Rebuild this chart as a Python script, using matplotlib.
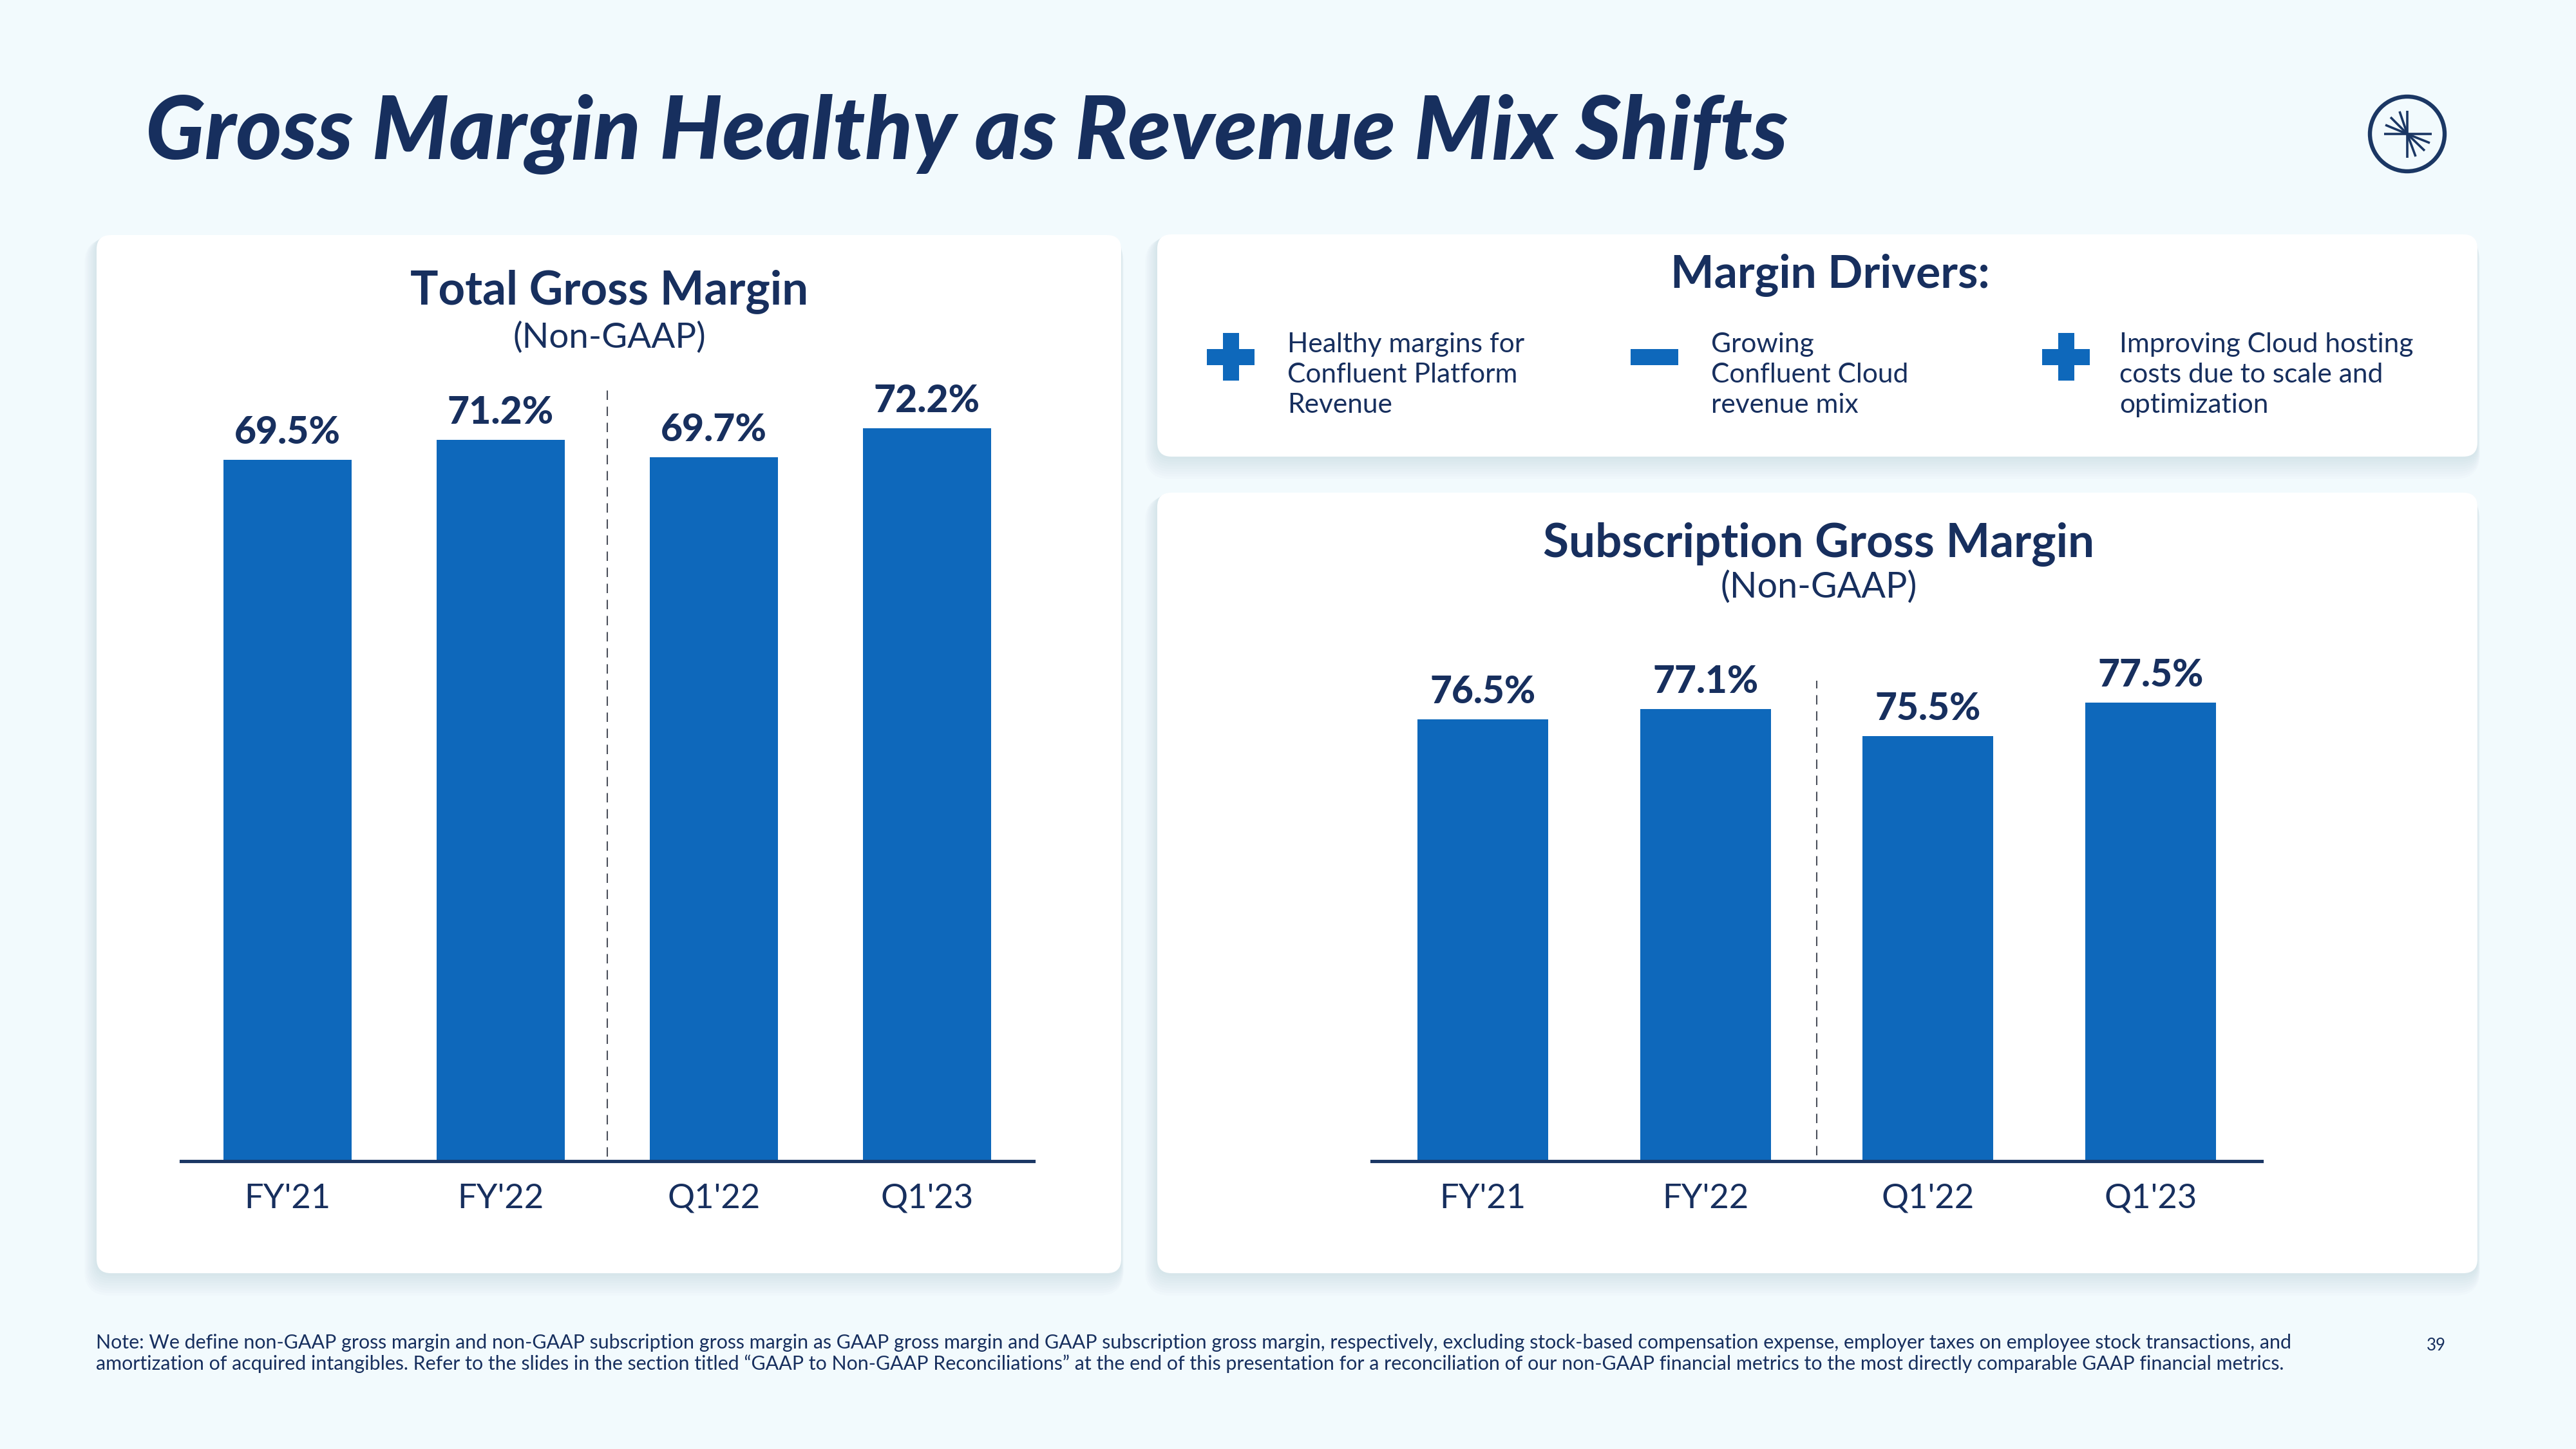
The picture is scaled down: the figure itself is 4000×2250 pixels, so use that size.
import matplotlib
matplotlib.use('Agg')
import matplotlib.pyplot as plt
from matplotlib.patches import FancyBboxPatch, Rectangle, Circle
from matplotlib.lines import Line2D

# ---------------- data ----------------
categories = ["FY'21", "FY'22", "Q1'22", "Q1'23"]
total_gm = [69.5, 71.2, 69.7, 72.2]
subscription_gm = [76.5, 77.1, 75.5, 77.5]

title = "Gross Margin Healthy as Revenue Mix Shifts"
total_title = "Total Gross Margin"
sub_title = "Subscription Gross Margin"
subtitle = "(Non-GAAP)"
drivers_title = "Margin Drivers:"
drivers = [
    ("+", ["Healthy margins for", "Confluent Platform", "Revenue"]),
    ("-", ["Growing", "Confluent Cloud", "revenue mix"]),
    ("+", ["Improving Cloud hosting", "costs due to scale and", "optimization"]),
]
footnote = [
    "Note: We define non-GAAP gross margin and non-GAAP subscription gross margin as GAAP gross margin and GAAP subscription gross margin, respectively, excluding stock-based compensation expense, employer taxes on employee stock transactions, and",
    "amortization of acquired intangibles. Refer to the slides in the section titled \u201cGAAP to Non-GAAP Reconciliations\u201d at the end of this presentation for a reconciliation of our non-GAAP financial metrics to the most directly comparable GAAP financial metrics.",
]
page_number = "39"

# ---------------- style ----------------
BG = '#f2fafd'
NAVY = '#172f5e'
NAVY_LINE = '#1b3764'
BAR = '#0e68bb'
DASH = '#4a4f5a'
FONT = ['Lato', 'DejaVu Sans']
plt.rcParams['font.family'] = FONT
LIGHT = 'normal'

W, H = 4000, 2250
fig = plt.figure(figsize=(40, 22.5), dpi=100)
fig.patch.set_facecolor(BG)
renderer = fig.canvas.get_renderer()


def fr(x0, y0, x1, y1):
    return [x0 / W, 1 - y1 / H, (x1 - x0) / W, (y1 - y0) / H]


def fit(t, target):
    w = t.get_window_extent(renderer).width
    t.set_fontsize(t.get_fontsize() * target / w)
    return t.get_fontsize()


bg = fig.add_axes([0, 0, 1, 1])
bg.set_xlim(0, W)
bg.set_ylim(H, 0)
bg.axis('off')
bg.set_zorder(0)


def panel(x0, y0, x1, y1, r=22):
    for i in range(1, 10):
        s = i * 3.5
        bg.add_patch(FancyBboxPatch((x0 - s * 0.6, y0 + s * 0.2), (x1 - x0) + 1.2 * s * 0.6,
                                    (y1 - y0) + s * 0.9,
                                    boxstyle=f"round,pad=0,rounding_size={r + s * 0.5}",
                                    fc='#7f9fb0', ec='none', alpha=0.022, zorder=1))
    bg.add_patch(FancyBboxPatch((x0, y0), x1 - x0, y1 - y0,
                                boxstyle=f"round,pad=0,rounding_size={r}",
                                fc='white', ec='none', zorder=2))


panel(150, 365, 1741, 1977)
panel(1797, 364, 3847, 709)
panel(1797, 765, 3847, 1977)

# ---------------- title ----------------
t = bg.text(226, 247, title, ha='left', va='baseline', fontsize=87, weight='black',
            style='italic', color=NAVY, zorder=5)
fit(t, 2550)

# ---------------- logo ----------------
cx, cy = 3738, 208
bg.add_patch(Circle((cx, cy), 58, fill=False, lw=4.6, ec=NAVY_LINE, zorder=5))
for (xa, ya, xb, yb) in [(cx, 172, cx, 245), (3702, cy, 3776, cy)]:
    bg.add_line(Line2D([xa, xb], [ya, yb], lw=2.6, color=NAVY_LINE, zorder=5, solid_capstyle='butt'))
for (ex, ey) in [(3726, 173), (3712, 182), (3704, 194), (3751, 243), (3765, 234), (3773, 222)]:
    bg.add_line(Line2D([cx, ex], [cy, ey], lw=2.6, color=NAVY_LINE, zorder=5, solid_capstyle='butt'))

# ---------------- panel titles ----------------
t = bg.text(946, 472, total_title, ha='center', va='baseline', fontsize=47, weight='bold', color=NAVY, zorder=5)
fit(t, 618)
t = bg.text(946, 540, subtitle, ha='center', va='baseline', fontsize=28, weight=LIGHT, color=NAVY, zorder=5)
fit(t, 300)
t = bg.text(2824, 864, sub_title, ha='center', va='baseline', fontsize=47, weight='bold', color=NAVY, zorder=5)
fit(t, 856)
t = bg.text(2824, 928, subtitle, ha='center', va='baseline', fontsize=28, weight=LIGHT, color=NAVY, zorder=5)
fit(t, 305)
t = bg.text(2842, 447, drivers_title, ha='center', va='baseline', fontsize=47, weight='bold', color=NAVY, zorder=5)
fit(t, 495)

# ---------------- margin drivers ----------------
icon_x = [1911, 2569, 3208]
text_x = [1999, 2657, 3291]
baselines = [547, 594, 641]
probe = bg.text(0, 0, drivers[2][1][0], fontsize=26, weight=LIGHT)
dsize = fit(probe, 457)
probe.remove()
for (sign, lines), ix, tx in zip(drivers, icon_x, text_x):
    arm, th = 74, 25
    bg.add_patch(Rectangle((ix - arm / 2, 554 - th / 2), arm, th, fc=BAR, ec='none', zorder=5))
    if sign == '+':
        bg.add_patch(Rectangle((ix - th / 2, 554 - arm / 2), th, arm, fc=BAR, ec='none', zorder=5))
    for ln, by in zip(lines, baselines):
        bg.text(tx, by, ln, ha='left', va='baseline', fontsize=dsize, weight=LIGHT, color=NAVY, zorder=5)

# ---------------- footnote ----------------
probe = bg.text(0, 0, footnote[0], fontsize=15, weight='normal')
fsize = fit(probe, 3422)
probe.remove()
for ln, by in zip(footnote, [2094, 2127]):
    bg.text(149, by, ln, ha='left', va='baseline', fontsize=fsize, weight='normal', color=NAVY, zorder=5)
t = bg.text(3783, 2097, page_number, ha='center', va='baseline', fontsize=15, color=NAVY, zorder=5)
fit(t, 30)


# ---------------- bar charts ----------------
def bar_chart(rect, values, ybottom, px_per_unit, bar_w, label_w, tick_w, divider_ymin):
    x0, y0, x1, y1 = rect
    ax = fig.add_axes(fr(*rect))
    ax.set_zorder(3)
    ax.patch.set_alpha(0)
    xs = list(range(len(values)))
    ax.bar(xs, values, width=bar_w, color=BAR, zorder=2)
    ax.set_xlim(-0.5, len(values) - 0.5)
    ax.set_ylim(ybottom, ybottom + (y1 - y0) / px_per_unit)
    for s in ['top', 'right', 'left']:
        ax.spines[s].set_visible(False)
    ax.spines['bottom'].set_linewidth(3.7)
    ax.spines['bottom'].set_color(NAVY_LINE)
    ax.spines['bottom'].set_zorder(3)
    ax.set_yticks([])
    ax.set_xticks(xs)
    ax.set_xticklabels(categories, fontsize=39, weight=LIGHT, color=NAVY)
    ax.tick_params(axis='x', length=0, pad=52.5)
    labs = ax.get_xticklabels()
    for lab in labs:
        lab.set_va('baseline')
    s = fit(labs[0], tick_w)
    for lab in labs:
        lab.set_fontsize(s)
    ann = []
    for x, v in zip(xs, values):
        a = ax.annotate(f'{v:.1f}%', (x, v), xytext=(0, 18), textcoords='offset points',
                        ha='center', va='baseline', fontsize=40, weight='black', color=NAVY,
                        annotation_clip=False)
        ann.append(a)
    s = fit(ann[0], label_w)
    for a in ann:
        a.set_fontsize(s)
    ax.axvline(1.5, ymin=divider_ymin, ymax=1, color=DASH, lw=1.5, ls=(0, (7, 5)), zorder=1)
    return ax


bar_chart((281, 605, 1605, 1803), total_gm, 10, 18.3, 0.604, 165, 134, 0.006)
bar_chart((2130, 1057, 3512, 1803), subscription_gm, 50, 25.9, 0.587, 164, 134, 0.012)

fig.savefig('out.png', dpi=100, facecolor=BG)
